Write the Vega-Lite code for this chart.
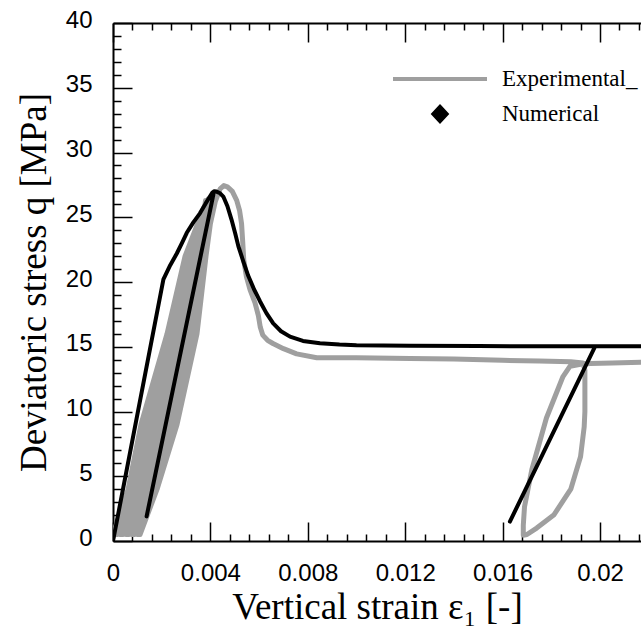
{
  "$schema": "https://vega.github.io/schema/vega-lite/v6.json",
  "width": 528,
  "height": 518,
  "autosize": {"type": "none"},
  "padding": {"left": 113, "top": 23, "right": 0, "bottom": 94},
  "background": "white",
  "config": {"view": {"stroke": null}, "axis": {"grid": false}},
  "datasets": {
    "exp": [
      {"s": "Experimental_", "i": 1, "x": 0.0000, "y": 0.3},
      {"s": "Experimental_", "i": 2, "x": 0.0000, "y": 0.5},
      {"s": "Experimental_", "i": 3, "x": 0.00062, "y": 4},
      {"s": "Experimental_", "i": 4, "x": 0.00115, "y": 9},
      {"s": "Experimental_", "i": 5, "x": 0.00222, "y": 16},
      {"s": "Experimental_", "i": 6, "x": 0.00296, "y": 22},
      {"s": "Experimental_", "i": 7, "x": 0.00378, "y": 26.0},
      {"s": "Experimental_", "i": 8, "x": 0.0038, "y": 26.3},
      {"s": "Experimental_", "i": 9, "x": 0.00381, "y": 26.0},
      {"s": "Experimental_", "i": 10, "x": 0.00304, "y": 22},
      {"s": "Experimental_", "i": 11, "x": 0.00234, "y": 16},
      {"s": "Experimental_", "i": 12, "x": 0.0013, "y": 9},
      {"s": "Experimental_", "i": 13, "x": 0.00074, "y": 4},
      {"s": "Experimental_", "i": 14, "x": 0.00007, "y": 0.5},
      {"s": "Experimental_", "i": 15, "x": 0.00019, "y": 0.5},
      {"s": "Experimental_", "i": 16, "x": 0.00085, "y": 4},
      {"s": "Experimental_", "i": 17, "x": 0.00145, "y": 9},
      {"s": "Experimental_", "i": 18, "x": 0.00246, "y": 16},
      {"s": "Experimental_", "i": 19, "x": 0.00313, "y": 22},
      {"s": "Experimental_", "i": 20, "x": 0.00384, "y": 26.0},
      {"s": "Experimental_", "i": 21, "x": 0.00386, "y": 26.3},
      {"s": "Experimental_", "i": 22, "x": 0.00387, "y": 26.0},
      {"s": "Experimental_", "i": 23, "x": 0.00322, "y": 22},
      {"s": "Experimental_", "i": 24, "x": 0.00259, "y": 16},
      {"s": "Experimental_", "i": 25, "x": 0.00159, "y": 9},
      {"s": "Experimental_", "i": 26, "x": 0.00097, "y": 4},
      {"s": "Experimental_", "i": 27, "x": 0.0003, "y": 0.5},
      {"s": "Experimental_", "i": 28, "x": 0.00042, "y": 0.5},
      {"s": "Experimental_", "i": 29, "x": 0.00109, "y": 4},
      {"s": "Experimental_", "i": 30, "x": 0.00174, "y": 9},
      {"s": "Experimental_", "i": 31, "x": 0.00271, "y": 16},
      {"s": "Experimental_", "i": 32, "x": 0.0033, "y": 22},
      {"s": "Experimental_", "i": 33, "x": 0.0039, "y": 26.0},
      {"s": "Experimental_", "i": 34, "x": 0.00391, "y": 26.4},
      {"s": "Experimental_", "i": 35, "x": 0.00392, "y": 26.0},
      {"s": "Experimental_", "i": 36, "x": 0.00339, "y": 22},
      {"s": "Experimental_", "i": 37, "x": 0.00283, "y": 16},
      {"s": "Experimental_", "i": 38, "x": 0.00189, "y": 9},
      {"s": "Experimental_", "i": 39, "x": 0.00121, "y": 4},
      {"s": "Experimental_", "i": 40, "x": 0.00053, "y": 0.5},
      {"s": "Experimental_", "i": 41, "x": 0.00065, "y": 0.5},
      {"s": "Experimental_", "i": 42, "x": 0.00133, "y": 4},
      {"s": "Experimental_", "i": 43, "x": 0.00204, "y": 9},
      {"s": "Experimental_", "i": 44, "x": 0.00296, "y": 16},
      {"s": "Experimental_", "i": 45, "x": 0.00347, "y": 22},
      {"s": "Experimental_", "i": 46, "x": 0.00395, "y": 26.0},
      {"s": "Experimental_", "i": 47, "x": 0.00397, "y": 26.5},
      {"s": "Experimental_", "i": 48, "x": 0.00398, "y": 26.0},
      {"s": "Experimental_", "i": 49, "x": 0.00356, "y": 22},
      {"s": "Experimental_", "i": 50, "x": 0.00308, "y": 16},
      {"s": "Experimental_", "i": 51, "x": 0.00218, "y": 9},
      {"s": "Experimental_", "i": 52, "x": 0.00145, "y": 4},
      {"s": "Experimental_", "i": 53, "x": 0.00076, "y": 0.5},
      {"s": "Experimental_", "i": 54, "x": 0.00088, "y": 0.5},
      {"s": "Experimental_", "i": 55, "x": 0.00157, "y": 4},
      {"s": "Experimental_", "i": 56, "x": 0.00233, "y": 9},
      {"s": "Experimental_", "i": 57, "x": 0.0032, "y": 16},
      {"s": "Experimental_", "i": 58, "x": 0.00365, "y": 22},
      {"s": "Experimental_", "i": 59, "x": 0.00401, "y": 26.0},
      {"s": "Experimental_", "i": 60, "x": 0.00403, "y": 26.5},
      {"s": "Experimental_", "i": 61, "x": 0.00404, "y": 26.0},
      {"s": "Experimental_", "i": 62, "x": 0.00373, "y": 22},
      {"s": "Experimental_", "i": 63, "x": 0.00333, "y": 16},
      {"s": "Experimental_", "i": 64, "x": 0.00248, "y": 9},
      {"s": "Experimental_", "i": 65, "x": 0.00169, "y": 4},
      {"s": "Experimental_", "i": 66, "x": 0.00099, "y": 0.5},
      {"s": "Experimental_", "i": 67, "x": 0.00111, "y": 0.5},
      {"s": "Experimental_", "i": 68, "x": 0.00181, "y": 4},
      {"s": "Experimental_", "i": 69, "x": 0.00263, "y": 9},
      {"s": "Experimental_", "i": 70, "x": 0.00345, "y": 16},
      {"s": "Experimental_", "i": 71, "x": 0.00382, "y": 22},
      {"s": "Experimental_", "i": 72, "x": 0.004, "y": 24.5},
      {"s": "Experimental_", "i": 73, "x": 0.0042, "y": 26.2},
      {"s": "Experimental_", "i": 74, "x": 0.0044, "y": 27.2},
      {"s": "Experimental_", "i": 75, "x": 0.00455, "y": 27.45},
      {"s": "Experimental_", "i": 76, "x": 0.0047, "y": 27.35},
      {"s": "Experimental_", "i": 77, "x": 0.0049, "y": 27.0},
      {"s": "Experimental_", "i": 78, "x": 0.00508, "y": 26.3},
      {"s": "Experimental_", "i": 79, "x": 0.0052, "y": 25.5},
      {"s": "Experimental_", "i": 80, "x": 0.00528, "y": 24.5},
      {"s": "Experimental_", "i": 81, "x": 0.00533, "y": 23.0},
      {"s": "Experimental_", "i": 82, "x": 0.00537, "y": 21.7},
      {"s": "Experimental_", "i": 83, "x": 0.00548, "y": 20.4},
      {"s": "Experimental_", "i": 84, "x": 0.00563, "y": 19.4},
      {"s": "Experimental_", "i": 85, "x": 0.00583, "y": 18.4},
      {"s": "Experimental_", "i": 86, "x": 0.00597, "y": 17.4},
      {"s": "Experimental_", "i": 87, "x": 0.00605, "y": 16.5},
      {"s": "Experimental_", "i": 88, "x": 0.00615, "y": 15.9},
      {"s": "Experimental_", "i": 89, "x": 0.00635, "y": 15.5},
      {"s": "Experimental_", "i": 90, "x": 0.00657, "y": 15.25},
      {"s": "Experimental_", "i": 91, "x": 0.0070, "y": 14.85},
      {"s": "Experimental_", "i": 92, "x": 0.00754, "y": 14.45},
      {"s": "Experimental_", "i": 93, "x": 0.00837, "y": 14.15},
      {"s": "Experimental_", "i": 94, "x": 0.0100, "y": 14.15},
      {"s": "Experimental_", "i": 95, "x": 0.0122, "y": 14.1},
      {"s": "Experimental_", "i": 96, "x": 0.0140, "y": 14.05},
      {"s": "Experimental_", "i": 97, "x": 0.0160, "y": 13.95},
      {"s": "Experimental_", "i": 98, "x": 0.0175, "y": 13.9},
      {"s": "Experimental_", "i": 99, "x": 0.0188, "y": 13.85},
      {"s": "Experimental_", "i": 100, "x": 0.0193, "y": 13.75},
      {"s": "Experimental_", "i": 101, "x": 0.01938, "y": 13.2},
      {"s": "Experimental_", "i": 102, "x": 0.01938, "y": 10.0},
      {"s": "Experimental_", "i": 103, "x": 0.01935, "y": 8.8},
      {"s": "Experimental_", "i": 104, "x": 0.0192, "y": 6.5},
      {"s": "Experimental_", "i": 105, "x": 0.0188, "y": 4.0},
      {"s": "Experimental_", "i": 106, "x": 0.0181, "y": 2.0},
      {"s": "Experimental_", "i": 107, "x": 0.0174, "y": 1.0},
      {"s": "Experimental_", "i": 108, "x": 0.0170, "y": 0.5},
      {"s": "Experimental_", "i": 109, "x": 0.01685, "y": 0.45},
      {"s": "Experimental_", "i": 110, "x": 0.01685, "y": 1.2},
      {"s": "Experimental_", "i": 111, "x": 0.0169, "y": 2.65},
      {"s": "Experimental_", "i": 112, "x": 0.0172, "y": 5.5},
      {"s": "Experimental_", "i": 113, "x": 0.0178, "y": 9.5},
      {"s": "Experimental_", "i": 114, "x": 0.01848, "y": 12.7},
      {"s": "Experimental_", "i": 115, "x": 0.01877, "y": 13.5},
      {"s": "Experimental_", "i": 116, "x": 0.0192, "y": 13.65},
      {"s": "Experimental_", "i": 117, "x": 0.0196, "y": 13.7},
      {"s": "Experimental_", "i": 118, "x": 0.0205, "y": 13.75},
      {"s": "Experimental_", "i": 119, "x": 0.0217, "y": 13.8}
    ],
    "num": [
      {"s": "Numerical", "i": 1, "x": 0.0, "y": 0.0},
      {"s": "Numerical", "i": 2, "x": 0.00207, "y": 20.2},
      {"s": "Numerical", "i": 3, "x": 0.00235, "y": 21.3},
      {"s": "Numerical", "i": 4, "x": 0.00262, "y": 22.2},
      {"s": "Numerical", "i": 5, "x": 0.00283, "y": 23.0},
      {"s": "Numerical", "i": 6, "x": 0.00303, "y": 23.8},
      {"s": "Numerical", "i": 7, "x": 0.0033, "y": 24.6},
      {"s": "Numerical", "i": 8, "x": 0.00357, "y": 25.3},
      {"s": "Numerical", "i": 9, "x": 0.0038, "y": 26.05},
      {"s": "Numerical", "i": 10, "x": 0.00398, "y": 26.6},
      {"s": "Numerical", "i": 11, "x": 0.00408, "y": 26.9},
      {"s": "Numerical", "i": 12, "x": 0.00415, "y": 27.0},
      {"s": "Numerical", "i": 13, "x": 0.00138, "y": 1.9},
      {"s": "Numerical", "i": 14, "x": 0.00415, "y": 27.0},
      {"s": "Numerical", "i": 15, "x": 0.00425, "y": 26.98},
      {"s": "Numerical", "i": 16, "x": 0.0044, "y": 26.85},
      {"s": "Numerical", "i": 17, "x": 0.00453, "y": 26.6},
      {"s": "Numerical", "i": 18, "x": 0.0047, "y": 25.85},
      {"s": "Numerical", "i": 19, "x": 0.00487, "y": 24.8},
      {"s": "Numerical", "i": 20, "x": 0.00502, "y": 23.75},
      {"s": "Numerical", "i": 21, "x": 0.00515, "y": 22.75},
      {"s": "Numerical", "i": 22, "x": 0.00535, "y": 21.6},
      {"s": "Numerical", "i": 23, "x": 0.00555, "y": 20.5},
      {"s": "Numerical", "i": 24, "x": 0.0058, "y": 19.4},
      {"s": "Numerical", "i": 25, "x": 0.00604, "y": 18.5},
      {"s": "Numerical", "i": 26, "x": 0.0063, "y": 17.6},
      {"s": "Numerical", "i": 27, "x": 0.00658, "y": 16.8},
      {"s": "Numerical", "i": 28, "x": 0.0069, "y": 16.2},
      {"s": "Numerical", "i": 29, "x": 0.00727, "y": 15.78},
      {"s": "Numerical", "i": 30, "x": 0.0078, "y": 15.45},
      {"s": "Numerical", "i": 31, "x": 0.0085, "y": 15.27},
      {"s": "Numerical", "i": 32, "x": 0.0093, "y": 15.17},
      {"s": "Numerical", "i": 33, "x": 0.0100, "y": 15.12},
      {"s": "Numerical", "i": 34, "x": 0.0122, "y": 15.08},
      {"s": "Numerical", "i": 35, "x": 0.0150, "y": 15.05},
      {"s": "Numerical", "i": 36, "x": 0.0198, "y": 15.03},
      {"s": "Numerical", "i": 37, "x": 0.0163, "y": 1.5},
      {"s": "Numerical", "i": 38, "x": 0.0198, "y": 15.03},
      {"s": "Numerical", "i": 39, "x": 0.0217, "y": 15.03}
    ]
  },
  "resolve": {"axis": {"x": "independent", "y": "independent"}},
  "layer": [
    {
      "data": {"name": "exp"},
      "mark": {"type": "line", "strokeWidth": 5, "clip": true, "strokeCap": "round", "strokeJoin": "round"},
      "encoding": {
        "x": {
          "field": "x", "type": "quantitative",
          "scale": {"domain": [0, 0.021684], "nice": false, "zero": false},
          "axis": {
            "orient": "bottom", "values": [0, 0.004, 0.008, 0.012, 0.016, 0.02],
            "labelExpr": "datum.value == 0 ? '0' : format(datum.value, '.3~f')",
            "tickSize": -19, "tickWidth": 1.5, "tickColor": "black",
            "domainColor": "black", "domainWidth": 2,
            "labelFont": "Liberation Sans", "labelFontSize": 24, "labelColor": "black",
            "labelPadding": 39, "labelFlush": false, "labelOverlap": false,
            "title": "Vertical strain ε₁ [-]",
            "titleFont": "Liberation Serif", "titleFontSize": 37, "titleFontWeight": "normal",
            "titleColor": "black", "titlePadding": 4
          }
        },
        "y": {
          "field": "y", "type": "quantitative",
          "scale": {"domain": [0, 40], "nice": false, "zero": false},
          "axis": {
            "orient": "left", "values": [0, 5, 10, 15, 20, 25, 30, 35, 40],
            "tickSize": -19, "tickWidth": 1.5, "tickColor": "black",
            "domainColor": "black", "domainWidth": 2,
            "labelFont": "Liberation Sans", "labelFontSize": 24, "labelColor": "black",
            "labelPadding": 40, "labelOffset": -3, "labelFlush": false, "labelOverlap": false,
            "title": "Deviatoric stress q [MPa]",
            "titleFont": "Liberation Serif", "titleFontSize": 37, "titleFontWeight": "normal",
            "titleColor": "black", "titlePadding": 12
          }
        },
        "order": {"field": "i", "type": "quantitative"},
        "color": {
          "field": "s", "type": "nominal",
          "scale": {"domain": ["Experimental_", "Numerical"], "range": ["#9f9f9f", "#000000"]},
          "legend": {
            "title": null, "orient": "none", "legendX": 278, "legendY": 41,
            "padding": 0, "columns": 1,
            "labelFont": "Liberation Serif", "labelFontSize": 23, "labelColor": "black",
            "labelOffset": 13, "symbolType": "stroke", "symbolSize": 8836, "symbolStrokeWidth": 4,
            "clipHeight": 30, "rowPadding": 5,
            "encode": {
              "symbols": {
                "update": {
                  "shape": [{"test": "datum.value === 'Numerical'", "value": "M0,-0.15L0.14,0L0,0.15L-0.14,0Z"}, {"value": "stroke"}],
                  "fill": [{"test": "datum.value === 'Numerical'", "value": "#000000"}, {"value": "transparent"}],
                  "stroke": [{"test": "datum.value === 'Numerical'", "value": "transparent"}, {"value": "#9f9f9f"}],
                  "strokeWidth": {"value": 4},
                  "size": {"value": 8836},
                  "opacity": {"value": 1}
                }
              }
            }
          }
        }
      }
    },
    {
      "data": {"name": "num"},
      "mark": {"type": "line", "strokeWidth": 4, "clip": true, "strokeCap": "round", "strokeJoin": "round"},
      "encoding": {
        "x": {
          "field": "x", "type": "quantitative",
          "axis": {
            "orient": "top", "values": [0, 0.004, 0.008, 0.012, 0.016, 0.02],
            "labels": false, "tickSize": -19, "tickWidth": 1.5, "tickColor": "black",
            "domainColor": "black", "domainWidth": 2, "title": null
          }
        },
        "y": {
          "field": "y", "type": "quantitative",
          "axis": {
            "orient": "left",
            "values": [1,2,3,4,6,7,8,9,11,12,13,14,16,17,18,19,21,22,23,24,26,27,28,29,31,32,33,34,36,37,38,39],
            "labels": false, "tickSize": -8, "tickWidth": 1.5, "tickColor": "black",
            "domain": false, "title": null
          }
        },
        "order": {"field": "i", "type": "quantitative"},
        "color": {"field": "s", "type": "nominal"}
      }
    },
    {
      "data": {"name": "num"},
      "transform": [{"filter": "false"}],
      "mark": {"type": "point"},
      "encoding": {
        "x": {
          "field": "x", "type": "quantitative",
          "axis": {
            "orient": "bottom",
            "values": [0.0008,0.0016,0.0024,0.0032,0.0048,0.0056,0.0064,0.0072,0.0088,0.0096,0.0104,0.0112,0.0128,0.0136,0.0144,0.0152,0.0168,0.0176,0.0184,0.0192,0.0208,0.0216],
            "labels": false, "tickSize": -7, "tickWidth": 1.5, "tickColor": "black",
            "domain": false, "title": null
          }
        }
      }
    },
    {
      "data": {"name": "num"},
      "transform": [{"filter": "false"}],
      "mark": {"type": "point"},
      "encoding": {
        "x": {
          "field": "x", "type": "quantitative",
          "axis": {
            "orient": "top",
            "values": [0.0008,0.0016,0.0024,0.0032,0.0048,0.0056,0.0064,0.0072,0.0088,0.0096,0.0104,0.0112,0.0128,0.0136,0.0144,0.0152,0.0168,0.0176,0.0184,0.0192,0.0208,0.0216],
            "labels": false, "tickSize": -7, "tickWidth": 1.5, "tickColor": "black",
            "domain": false, "title": null
          }
        }
      }
    }
  ]
}
